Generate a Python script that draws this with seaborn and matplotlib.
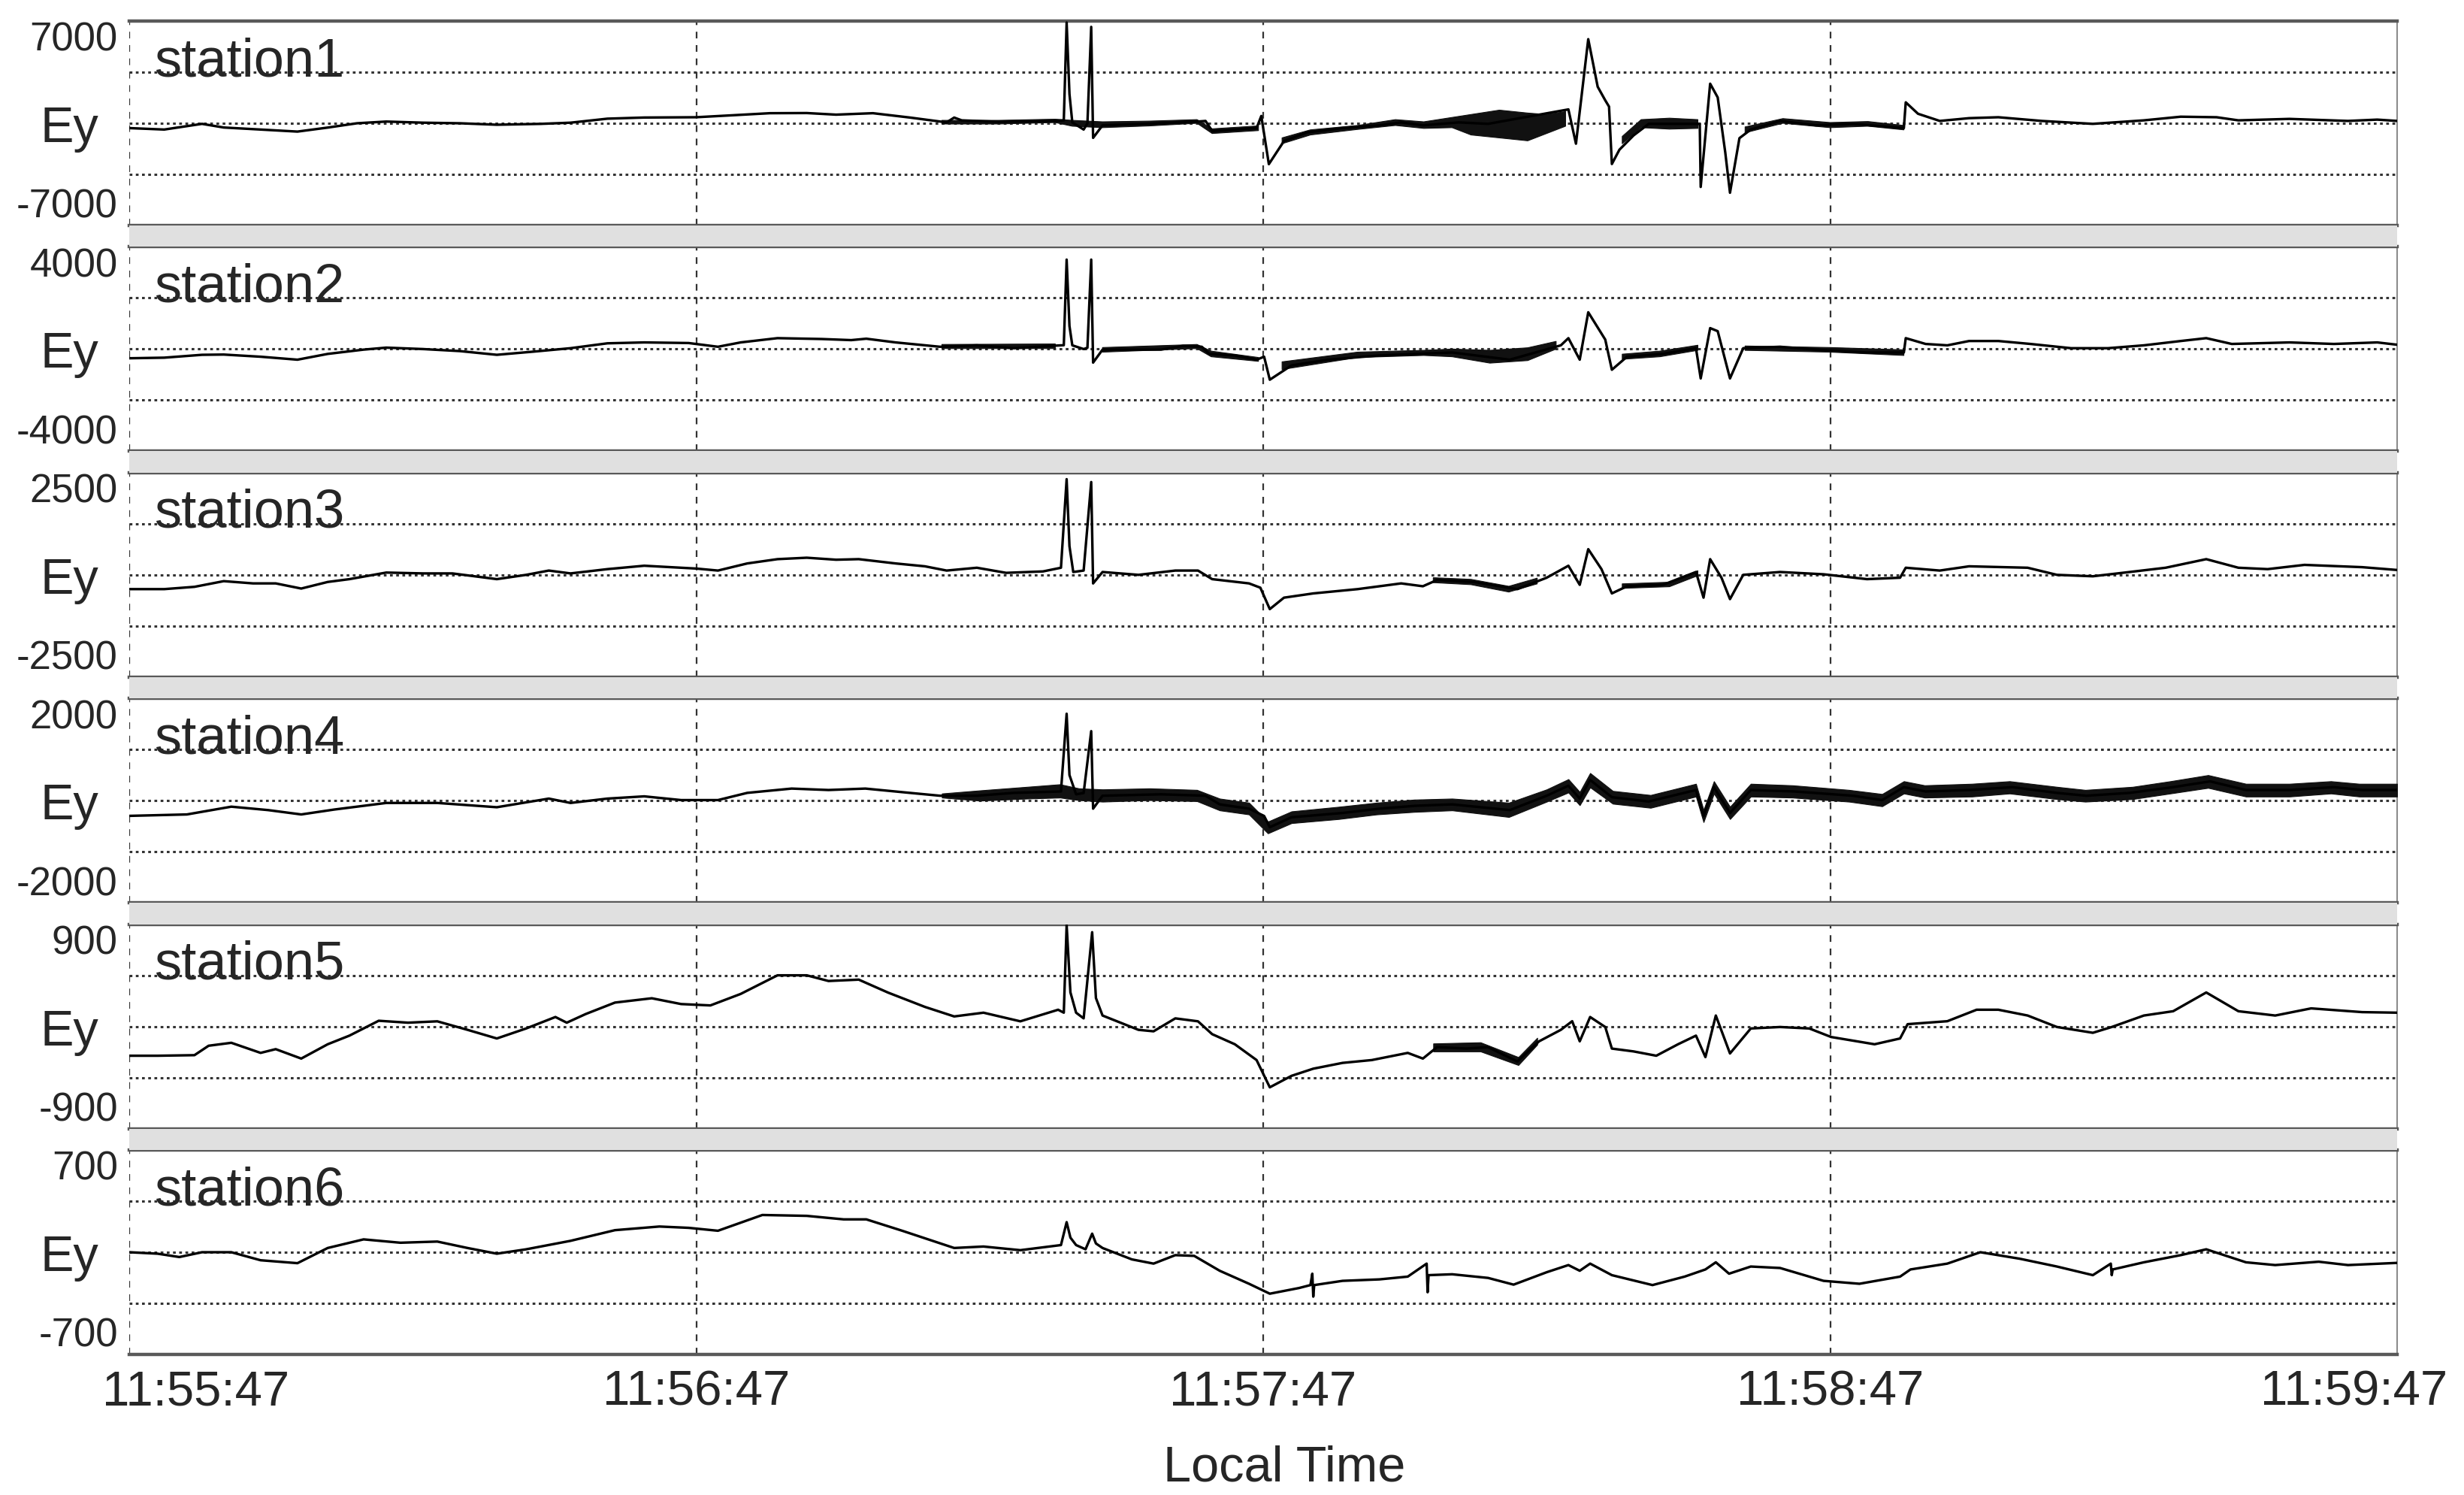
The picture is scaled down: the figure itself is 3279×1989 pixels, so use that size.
import numpy as np
import matplotlib
matplotlib.use("Agg")
import matplotlib.pyplot as plt
import matplotlib.transforms as mtransforms
from matplotlib.patches import Rectangle
import seaborn as sns

# time axis: seconds after 11:55:47
tick_seconds = [0, 60, 120, 180, 240]
tick_labels = ['11:55:47', '11:56:47', '11:57:47', '11:58:47', '11:59:47']

station_names = ['station1', 'station2', 'station3', 'station4', 'station5', 'station6']
y_limits = [7000, 4000, 2500, 2000, 900, 700]

# ---- station1 ----
st1_t = [0, 3.7, 7.7, 10.0, 13.9, 17.8, 21.0, 24.1, 27.2, 31.1, 35.0, 38.9, 43.6, 46.7, 50.6, 54.5,
         60.0, 63.9, 67.8, 71.7, 74.8, 78.7, 82.6, 86.5, 87.3, 88.1, 92.0, 98.2, 98.9, 99.2, 99.5,
         99.8, 101.0, 101.4, 101.8, 102.0, 103.0, 107.6, 113.1, 113.9, 114.6, 117.0, 119.3, 119.8,
         120.6, 122.2, 124.6, 128.4, 132.3, 134.6, 136.9, 140.7, 143.8, 152.3, 153.1, 154.4, 155.4,
         156.2, 156.6, 156.9, 157.7, 159.2, 160.8, 166.2, 166.3, 167.3, 168.1, 168.9, 169.4, 170.4,
         171.6, 174.7, 178.5, 182.4, 187.8, 188.0, 189.3, 191.6, 194.7, 197.8, 202.4, 207.8, 213.2,
         217.1, 220.9, 223.2, 228.6, 234.8, 237.9, 240]
st1_v = [-330, -430, -40, -290, -430, -570, -295, 0, 118, 40, 0, -100, -40, 40, 315, 393,
         413, 550, 690, 700, 590, 690, 393, 60, 390, 200, 100, 160, 200, 6900, 2000,
         60, -430, 0, 6600, -1000, -140, -40, 120, 160, -530, -430, -330, 500,
         -2800, -1220, -630, -330, -140, 60, -140, 60, -40, 950, -1400, 5760, 2500,
         1570, 1140, -2790, -1810, -830, -40, -40, -4360, 2710, 1770, -2000, -4760, -1020,
         -430, 160, -140, -40, -330, 1435, 650, 160, 350, 413, 160, -40, 200,
         450, 413, 200, 300, 160, 250, 160]
st1_noise_t = [86, 92, 98, 99.8, 103, 108, 113, 114.6, 119.5, np.nan,
               122, 125, 130, 134, 137, 140, 142, 145, 148, 150, 152, np.nan,
               158, 160, 163, 166, np.nan, 171, 175, 180, 184, 187.8]
st1_noise_lo = [-50, -50, 50, -200, -300, -180, 0, -700, -500, np.nan,
                -1400, -800, -420, -150, -350, -300, -800, -1000, -1200, -700, -200, np.nan,
                -1400, -300, -400, -350, np.nan, -650, 0, -300, -200, -450]
st1_noise_hi = [200, 200, 280, 200, 100, 150, 250, -380, -180, np.nan,
                -1000, -450, -150, 250, 100, 400, 600, 900, 700, 600, 800, np.nan,
                -900, 250, 350, 250, np.nan, -250, 320, 50, 120, -150]

# ---- station2 ----
st2_t = [0, 3.7, 7.7, 10.0, 13.9, 17.8, 21.0, 24.8, 27.2, 31.1, 35.0, 38.9, 42.8, 46.7, 50.6, 54.5,
         59.2, 62.3, 64.7, 68.6, 73.3, 76.4, 78.0, 81.1, 85.8, 89.7, 93.6, 98.6, 98.9, 99.2, 99.5,
         99.8, 101.0, 101.4, 101.8, 102.0, 103.0, 109.2, 111.5, 113.5, 114.3, 117.0, 119.3, 120.1,
         120.7, 123.0, 126.9, 132.3, 136.1, 140.0, 146.1, 151.5, 152.3, 153.5, 154.4, 156.2, 156.9,
         158.5, 162.3, 165.8, 166.3, 167.3, 168.1, 169.4, 170.8, 174.7, 178.5, 183.9, 187.8, 188.0,
         190.1, 192.4, 194.7, 197.8, 201.2, 205.5, 209.4, 213.2, 217.1, 219.8, 222.5, 228.6, 233.3,
         237.9, 240]
st2_v = [-360, -337, -225, -215, -300, -416, -190, -22, 56, 0, -80, -225, -100, 34, 225, 260,
         236, 90, 260, 427, 393, 350, 405, 260, 90, 146, 34, 146, 150, 3500, 900,
         146, 0, 50, 3500, -530, -22, -22, 124, 90, -190, -250, -416, -300,
         -1200, -640, -416, -250, -190, -135, -416, 146, 427, -416, 1440, 370, -810,
         -300, -190, 34, -1150, 820, 700, -1150, 34, 90, -22, -135, -135, 427,
         200, 146, 315, 315, 200, 34, 34, 146, 315, 427, 200, 260, 200,
         260, 170]
st2_noise_t = [86, 98, np.nan, 103, 113, 114.5, 119.5, np.nan, 122, 130, 137, 140, 144, 148, 151,
               np.nan, 158, 162, 166, np.nan, 171, 180, 187.8]
st2_noise_lo = [20, 20, np.nan, -120, 20, -300, -480, np.nan, -800, -330, -250, -300, -550, -450, 0,
                np.nan, -400, -300, -50, np.nan, -50, -120, -250]
st2_noise_hi = [180, 200, np.nan, 60, 180, -80, -330, np.nan, -500, -120, -50, 0, -50, 50, 300,
                np.nan, -200, -80, 150, np.nan, 120, 60, -30]

# ---- station3 ----
st3_t = [0, 3.7, 6.9, 10.0, 13.1, 15.5, 18.2, 21.0, 23.3, 27.2, 31.1, 34.2, 38.9, 42.0, 44.4, 46.7,
         50.6, 54.5, 60.0, 62.3, 65.4, 68.6, 71.7, 74.8, 77.2, 81.1, 84.2, 86.5, 89.7, 92.8, 96.7,
         98.6, 99.2, 99.5, 99.9, 101.0, 101.8, 102.0, 103.0, 106.8, 110.7, 113.1, 114.6, 118.5,
         119.7, 120.7, 122.2, 125.3, 130.0, 134.6, 136.9, 138.4, 142.3, 146.9, 150.0, 152.3, 153.5,
         154.4, 155.8, 156.9, 158.5, 162.3, 165.8, 166.6, 167.3, 168.5, 169.4, 170.8, 174.7, 179.3,
         183.9, 187.4, 188.0, 191.6, 194.7, 200.9, 204.0, 207.8, 211.7, 215.5, 219.8, 223.2, 226.3,
         230.2, 234.0, 236.3, 240]
st3_v = [-349, -349, -293, -154, -209, -209, -335, -174, -105, 56, 35, 35, -105, 0, 105, 35,
         140, 223, 154, 105, 279, 384, 419, 370, 384, 279, 209, 105, 174, 49, 84,
         174, 2340, 700, 70, 105, 2270, -210, 70, 0, 105, 105, -105, -209,
         -314, -838, -558, -454, -349, -209, -279, -126, -174, -349, -70, 223, -244,
         628, 140, -454, -279, -244, 70, -558, 384, -70, -593, 0, 70, 14,
         -105, -70, 174, 105, 209, 174, 0, -35, 70, 174, 384, 174, 140,
         244, 209, 188, 119]
st3_noise_t = [138, 142, 146, 149, np.nan, 158, 163, 166]
st3_noise_lo = [-190, -240, -420, -220, np.nan, -330, -290, -20]
st3_noise_hi = [-70, -110, -280, -80, np.nan, -220, -180, 100]

# ---- station4 ----
st4_t = [0, 6.1, 10.8, 14.7, 18.2, 21.7, 27.2, 32.6, 38.9, 44.4, 46.7, 50.6, 54.5, 58.4, 62.3, 65.4,
         70.1, 74.0, 77.9, 82.6, 85.8, 89.7, 93.6, 98.6, 99.2, 99.5, 100.2, 101.0, 101.8, 102.0,
         103.0, 109.2, 113.9, 115.4, 118.5, 120.1, 120.7, 123.0, 128.4, 132.3, 136.1, 140.0, 146.1,
         150.0, 152.3, 153.5, 154.6, 156.9, 160.8, 165.8, 166.6, 167.7, 169.4, 171.6, 176.2, 182.4,
         185.5, 187.8, 190.1, 194.7, 199.3, 204.0, 207.1, 211.7, 216.3, 220.2, 224.0, 228.6, 233.3,
         236.3, 240]
st4_v = [-298, -270, -118, -185, -270, -174, -45, -45, -129, 40, -45, 40, 84, 11, 11, 152,
         236, 208, 236, 152, 96, 96, 152, 180, 1700, 500, 124, 150, 1360, -157,
         96, 124, 96, -73, -157, -300, -520, -325, -241, -157, -101, -73, -185,
         96, 292, 40, 405, 68, -17, 208, -298, 264, -241, 208, 180, 96,
         11, 264, 180, 208, 264, 152, 96, 152, 264, 377, 208, 208, 264,
         208, 208]
st4_noise_t = [86, 90, 95, 98.5, 100.5, 103, 108, 113, 115.4, 118.5, 120.5, 123, 128, 132, 136, 140,
               146, 150, 152.3, 153.5, 154.6, 157, 161, 165.8, 166.6, 167.7, 169.4, 171.6, 176, 182,
               185.5, 187.8, 190, 195, 199, 204, 207, 212, 216, 220, 224, 228.6, 233, 236, 240]
st4_noise_lo = [60, 0, 40, 60, 10, -20, 10, -10, -190, -270, -640, -440, -360, -270, -220, -190,
                -320, -20, 160, -90, 260, -60, -140, 80, -420, 140, -360, 80, 60, -20,
                -110, 140, 60, 80, 140, 30, -20, 30, 140, 250, 80, 80, 140, 80, 80]
st4_noise_hi = [140, 200, 270, 320, 240, 220, 240, 210, 40, -40, -410, -210, -120, -40, 20, 40,
                -40, 220, 420, 170, 540, 190, 110, 330, -180, 380, -120, 330, 300, 210,
                130, 380, 300, 330, 380, 270, 210, 270, 380, 500, 330, 330, 380, 330, 330]

# ---- station5 ----
st5_t = [0, 3.0, 6.9, 8.4, 10.8, 13.9, 15.5, 18.2, 21.0, 23.3, 26.4, 29.5, 32.6, 35.8, 38.9, 42.0,
         45.1, 46.3, 48.3, 51.4, 55.3, 58.4, 61.5, 64.7, 68.6, 71.7, 74.0, 77.2, 80.3, 84.2, 87.3,
         90.4, 94.3, 98.3, 98.9, 99.2, 99.6, 100.2, 101.0, 101.9, 102.3, 103.0, 106.8, 108.4, 110.7,
         113.1, 114.6, 117.0, 119.3, 120.7, 123.0, 125.3, 128.4, 131.5, 135.3, 136.9, 138.4, 141.5,
         143.8, 146.9, 149.2, 151.5, 152.7, 153.5, 154.6, 156.2, 156.9, 159.2, 161.6, 163.9, 165.8,
         166.8, 167.9, 169.4, 171.6, 174.7, 177.8, 180.1, 184.7, 187.4, 188.2, 192.4, 195.5, 197.8,
         200.9, 204.0, 207.8, 209.8, 213.2, 216.3, 219.8, 223.2, 227.1, 230.9, 236.3, 240]
st5_v = [-258, -258, -253, -170, -144, -233, -200, -283, -157, -81, 50, 33, 45, -30, -106, -18,
         83, 33, 109, 210, 248, 197, 185, 286, 450, 450, 400, 412, 298, 172, 88,
         121, 45, 147, 121, 893, 300, 121, 71, 830, 250, 96, -30, -43, 71,
         45, -68, -157, -296, -536, -435, -372, -321, -296, -233, -283, -182, -195,
         -182, -309, -131, -30, 46, -131, 83, -5, -195, -220, -258, -157, -81,
         -270, 96, -238, -18, -5, -18, -93, -157, -106, 20, 46, 147, 147,
         96, -5, -56, -5, 96, 134, 299, 134, 96, 159, 126, 121]
st5_noise_t = [138, 143, 147, 149]
st5_noise_lo = [-220, -220, -340, -160]
st5_noise_hi = [-150, -140, -270, -100]

# ---- station6 ----
st6_t = [0, 3.0, 5.3, 7.7, 10.8, 13.9, 17.8, 21.0, 24.8, 28.7, 32.6, 35.8, 38.9, 42.0, 46.7, 51.4,
         56.1, 59.2, 62.3, 67.0, 71.7, 75.6, 78.0, 81.8, 87.3, 90.4, 94.3, 98.6, 99.2, 99.6, 100.2,
         101.2, 101.9, 102.3, 103.0, 106.1, 108.4, 110.7, 112.7, 115.4, 118.5, 120.7, 123.8, 125.0,
         125.2, 125.3, 125.4, 128.4, 132.3, 135.3, 137.3, 137.4, 137.5, 140.0, 143.8, 146.5, 150.0,
         152.3, 153.5, 154.6, 156.9, 161.2, 164.6, 166.8, 167.9, 169.3, 171.6, 174.7, 179.3, 183.1,
         187.4, 188.5, 192.4, 195.9, 200.1, 204.0, 207.8, 209.7, 209.8, 209.9, 213.2, 217.1, 219.8,
         224.0, 227.1, 231.7, 234.8, 240]
st6_v = [0, -10, -33, 0, 0, -55, -75, 29, 88, 65, 73, 29, -10, 20, 78, 151,
         176, 167, 147, 255, 249, 225, 225, 147, 29, 39, 14, 49, 206, 100, 49,
         20, 127, 60, 29, -49, -78, -20, -25, -127, -216, -284, -245, -225,
         -147, -304, -225, -196, -186, -167, -78, -274, -157, -151, -176, -222, -137,
         -88, -127, -78, -157, -225, -167, -118, -69, -147, -98, -108, -196, -216,
         -167, -118, -78, 0, -45, -98, -157, -78, -157, -118, -69, -20, 20,
         -69, -88, -65, -88, -73]

series = [
    (st1_t, st1_v, st1_noise_t, st1_noise_lo, st1_noise_hi),
    (st2_t, st2_v, st2_noise_t, st2_noise_lo, st2_noise_hi),
    (st3_t, st3_v, st3_noise_t, st3_noise_lo, st3_noise_hi),
    (st4_t, st4_v, st4_noise_t, st4_noise_lo, st4_noise_hi),
    (st5_t, st5_v, st5_noise_t, st5_noise_lo, st5_noise_hi),
    (st6_t, st6_v, None, None, None),
]

sns.set_style("white")
plt.rcParams['font.family'] = ['Liberation Sans', 'DejaVu Sans']

W, H = 3280, 1990
fig = plt.figure(figsize=(W / 100, H / 100), dpi=100)
fig.patch.set_facecolor('white')

left_px, right_px = 172, 3190
top0_px, step_px, panel_px = 29, 300.4, 272

axes = []
for i, (name, ylim, data) in enumerate(zip(station_names, y_limits, series)):
    top = top0_px + step_px * i
    ax = fig.add_axes([left_px / W, 1 - (top + panel_px) / H, (right_px - left_px) / W, panel_px / H])
    t, v, nt, nlo, nhi = data
    if nt is not None:
        ax.fill_between(np.array(nt, float), np.array(nlo, float), np.array(nhi, float),
                        color='#111111', linewidth=0.8, edgecolor='#111111', zorder=3)
    sns.lineplot(x=t, y=v, ax=ax, color='black', linewidth=2.4, estimator=None, sort=False, zorder=4)

    ax.set_xlim(0, 240)
    ax.set_ylim(-ylim, ylim)
    for gy in (-ylim / 2, 0, ylim / 2):
        ax.axhline(gy, color='#333333', linestyle=(0, (1.2, 1.5)), linewidth=2.2, zorder=1)
    for gx in tick_seconds[:-1]:
        ax.axvline(gx, color='#333333', linestyle=(0, (4, 4)), linewidth=1.6, zorder=1)

    for side in ('top', 'bottom'):
        ax.spines[side].set_color('#595959')
        ax.spines[side].set_linewidth(3.2)
    ax.spines['left'].set_visible(False)
    ax.spines['right'].set_color('#8c8c8c')
    ax.spines['right'].set_linewidth(1.5)

    ax.set_xlabel('')
    ax.set_ylabel('')
    ax.set_xticks(tick_seconds)
    ax.set_yticks([-ylim, ylim])
    ax.set_yticklabels([str(-ylim), str(ylim)])
    ax.tick_params(axis='y', length=0, pad=11, labelsize=38)
    ax.tick_params(axis='x', length=0, pad=14, labelsize=47)
    if i < 5:
        ax.tick_params(axis='x', labelbottom=False)
    ylabs = ax.get_yticklabels()
    ylabs[0].set_verticalalignment('bottom')
    ylabs[1].set_verticalalignment('top')

    ax.text(0.011, 0.735, name, transform=ax.transAxes, fontsize=52, ha='left', va='baseline', zorder=6)
    fig.text(92 / W, 1 - (top + panel_px * 0.5 + 24) / H, 'Ey', fontsize=48, ha='center', va='baseline')
    axes.append(ax)

    # grey separator band under each panel except the last
    if i < 5:
        fig.patches.append(Rectangle((left_px / W, 1 - (top + step_px) / H), (right_px - left_px) / W,
                                     (step_px - panel_px) / H, transform=fig.transFigure,
                                     facecolor='#e0e0e0', edgecolor='none', zorder=0))

bottom_ax = axes[-1]
bottom_ax.set_xticklabels(tick_labels)
xlabs = bottom_ax.get_xticklabels()
xlabs[0].set_horizontalalignment('left')
xlabs[0].set_transform(xlabs[0].get_transform() + mtransforms.ScaledTranslation(-0.36, 0, fig.dpi_scale_trans))
xlabs[-1].set_horizontalalignment('right')
xlabs[-1].set_transform(xlabs[-1].get_transform() + mtransforms.ScaledTranslation(0.67, 0, fig.dpi_scale_trans))

fig.text(1709 / W, 1 - 1971 / H, 'Local Time', fontsize=48, ha='center', va='baseline')

fig.savefig('out.png', dpi=100, facecolor='white')
